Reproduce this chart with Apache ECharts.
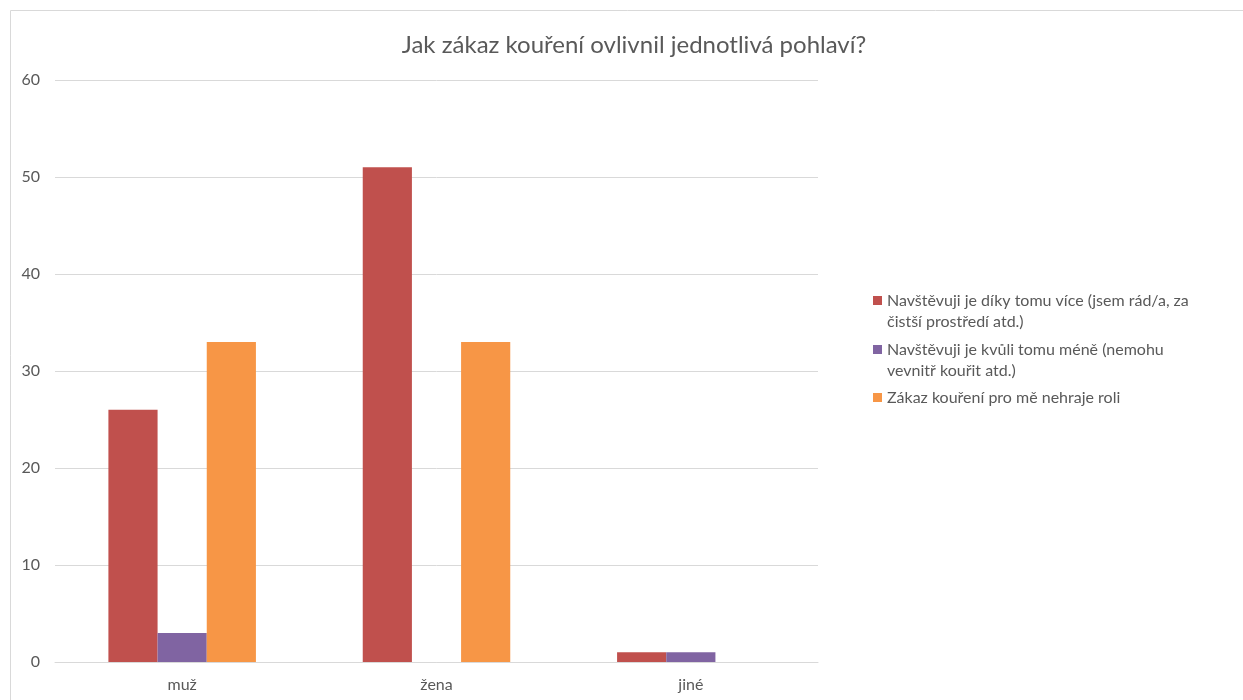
<!DOCTYPE html>
<html>
<head>
<meta charset="utf-8">
<script src="https://cdn.jsdelivr.net/npm/echarts@6/dist/echarts.min.js"></script>
<style>
  html, body { margin: 0; padding: 0; background: #fff; }
  #chart { width: 1243px; height: 700px; }
</style>
</head>
<body>
<div id="chart"></div>
<script>
// Categories (gender) and answer counts per series
const categories = ['muž', 'žena', 'jiné'];
const seriesNames = [
  'Navštěvuji je díky tomu více (jsem rád/a, za čistší prostředí atd.)',
  'Navštěvuji je kvůli tomu méně (nemohu vevnitř kouřit atd.)',
  'Zákaz kouření pro mě nehraje roli'
];
const moreOften = [26, 51, 1];
const lessOften = [3, 0, 1];
const noDifference = [33, 33, 0];
const yTicks = [0, 10, 20, 30, 40, 50, 60];

// Legend text wrapped onto two lines at these break points
const legendLines = [
  'Navštěvuji je díky tomu více (jsem rád/a, za\nčistší prostředí atd.)',
  'Navštěvuji je kvůli tomu méně (nemohu\nvevnitř kouřit atd.)',
  'Zákaz kouření pro mě nehraje roli'
];

const colors = ['#C0504D', '#8064A2', '#F79646'];
const font = 'Lato, "Open Sans", sans-serif';
const textColor = '#595959';
const values = [moreOften, lessOften, noDifference];

// Square marker sitting at the top of a taller box, so it lines up
// with the first line of a two-line legend entry
const topSquareIcon = 'path://M0,0h9v9h-9zM0,30h0.001';

// One legend block per series so each can sit at its own height
const legendTops = [290, 339, 387];
const legends = seriesNames.map((name, i) => {
  const twoLine = legendLines[i].indexOf('\n') >= 0;
  return {
    orient: 'vertical',
    left: 873,
    top: legendTops[i],
    padding: 0,
    data: [{ name, icon: twoLine ? topSquareIcon : 'rect' }],
    itemWidth: 9,
    itemHeight: twoLine ? 30 : 9,
    formatter: () => legendLines[i],
    textStyle: { fontFamily: font, fontSize: 16, color: textColor, lineHeight: 21 }
  };
});

const chart = echarts.init(document.getElementById('chart'), null, { renderer: 'canvas' });

chart.setOption({
  animation: false,
  color: colors,
  textStyle: { fontFamily: font },
  graphic: [{
    type: 'rect',
    shape: { x: 10.5, y: 10.5, width: 1300, height: 800 },
    style: { fill: 'none', stroke: '#d9d9d9', lineWidth: 1 },
    silent: true
  }],
  title: {
    text: 'Jak zákaz kouření ovlivnil jednotlivá pohlaví?',
    left: 629,
    textAlign: 'center',
    top: 28,
    textStyle: { fontFamily: font, fontSize: 24, fontWeight: 'normal', color: textColor }
  },
  legend: legends,
  grid: { left: 55, right: 425, top: 80, bottom: 38, containLabel: false },
  xAxis: {
    type: 'category',
    data: categories,
    axisLine: { show: true, lineStyle: { color: '#d9d9d9', width: 1 } },
    axisTick: { show: false },
    axisLabel: { color: textColor, fontSize: 16, margin: 15, fontFamily: font }
  },
  yAxis: {
    type: 'value',
    min: yTicks[0],
    max: yTicks[yTicks.length - 1],
    interval: 10,
    axisLine: { show: false },
    axisTick: { show: false },
    splitLine: { lineStyle: { color: '#d9d9d9', width: 1 } },
    axisLabel: { color: textColor, fontSize: 16, margin: 15, fontFamily: font }
  },
  series: seriesNames.map((name, i) => ({
    name,
    type: 'bar',
    data: values[i],
    barGap: '0%',
    barCategoryGap: '42%',
    itemStyle: { color: colors[i] }
  }))
});
</script>
</body>
</html>
